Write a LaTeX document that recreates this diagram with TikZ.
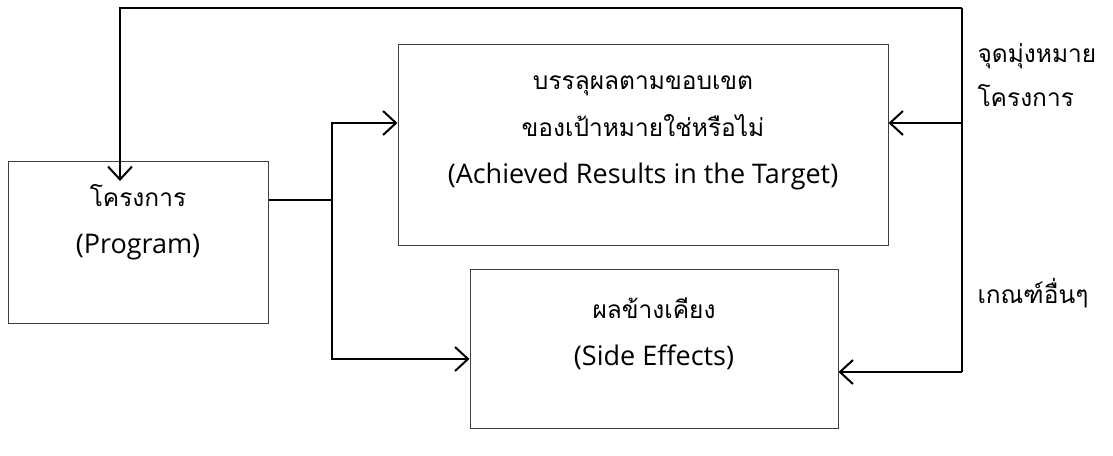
\documentclass[tikz,border=0pt]{standalone}
\usepackage{fontspec}
\setmainfont{Open Sans}
\newfontfamily\thai[Script=Thai]{Loma}
\newcommand\thline[1]{{\thai\fontsize{24.5}{47}\selectfont #1}}
\usetikzlibrary{arrows.meta}

\begin{document}
\begin{tikzpicture}[x=1pt,y=-1pt,
    box/.style={draw=black!75,line width=1pt,inner sep=0pt},
    conn/.style={line width=2pt},
    tip/.style={-{Straight Barb[length=13pt,width=24pt,line width=2pt]}},
    txt/.style={align=center,font=\fontsize{27}{47}\selectfont},
    side label/.style={anchor=west,align=left,font=\thai\fontsize{24.5}{44}\selectfont}]
  \useasboundingbox (0,0) rectangle (1113,455);

  % boxes
  \node[box,minimum width=260pt,minimum height=162pt] (prog) at (138,242) {};
  \node[box,minimum width=490pt,minimum height=201pt] (target) at (643,144.5) {};
  \node[box,minimum width=368pt,minimum height=159pt] (side) at (654,348.5) {};

  \node[txt] (progtxt) at (138,222) {\thline{โครงการ}\\(Program)};
  \node[txt] (targettxt) at (643,133) {\thline{บรรลุผลตามขอบเขต}\\\thline{ของเป้าหมายใช่หรือไม่}\\(Achieved Results in the Target)};
  \node[txt] (sidetxt) at (654,334) {\thline{ผลข้างเคียง}\\(Side Effects)};

  \node[side label] (aim) at (974,75) {จุดมุ่งหมาย\\โครงการ};
  \node[side label] (crit) at (974,293) {เกณฑ์อื่นๆ};

  % connectors
  \coordinate (tl) at (120,8);
  \coordinate (tr) at (962,8);
  \coordinate (down) at (120,181);
  \coordinate (split) at (332,200);
  \coordinate (ta) at (332,123);
  \coordinate (sa) at (332,359);
  \coordinate (tb) at (962,123);
  \coordinate (rb) at (962,372);

  \draw[conn,tip] (tr) -- (tl) -- (down);
  \draw[conn] (split -| prog.east) -- (split);
  \draw[conn,tip] (split) -- (ta) -- (ta -| target.west);
  \draw[conn,tip] (split) -- (sa) -- (sa -| side.west);
  \draw[conn] (tr) -- (rb);
  \draw[conn,tip] (tb) -- (tb -| target.east);
  \draw[conn,tip] (rb) -- (rb -| side.east);
\end{tikzpicture}
\end{document}
